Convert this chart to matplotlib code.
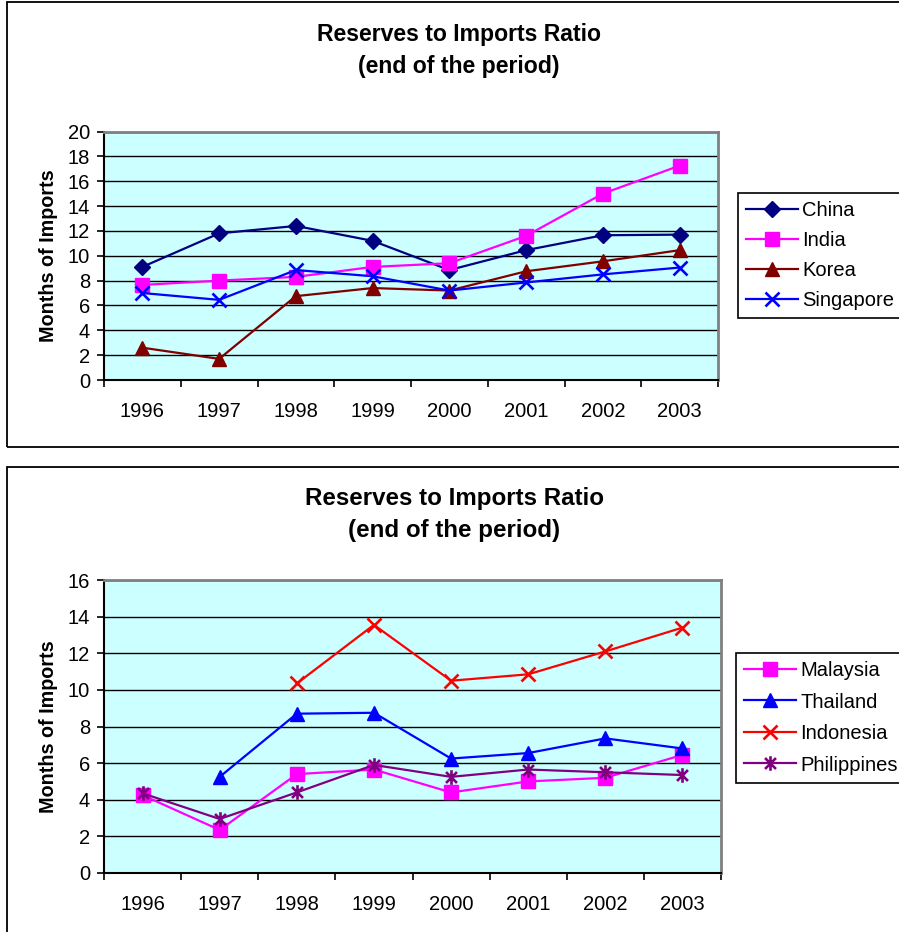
import numpy as np
import matplotlib.pyplot as plt
from matplotlib.path import Path
from matplotlib.patches import Rectangle

plt.rcParams['font.family'] = ['Liberation Sans', 'DejaVu Sans']

years = ['1996', '1997', '1998', '1999', '2000', '2001', '2002', '2003']

# months of imports covered by reserves, first group
china = [9.1, 11.8, 12.4, 11.2, 8.85, 10.45, 11.65, 11.7]
india = [7.65, 8.0, 8.3, 9.1, 9.4, 11.6, 15.0, 17.25]
korea = [2.6, 1.7, 6.75, 7.4, 7.2, 8.75, 9.55, 10.45]
singapore = [7.0, 6.45, 8.85, 8.35, 7.2, 7.85, 8.5, 9.05]

# second group (no data for the early years of Thailand / Indonesia)
malaysia = [4.25, 2.35, 5.4, 5.65, 4.4, 5.0, 5.2, 6.45]
thailand = [np.nan, 5.25, 8.7, 8.75, 6.25, 6.55, 7.35, 6.8]
indonesia = [np.nan, np.nan, 10.35, 13.55, 10.5, 10.85, 12.1, 13.4]
philippines = [4.35, 2.95, 4.4, 5.9, 5.25, 5.65, 5.5, 5.35]

W, H = 899, 932

# excel style asterisk: vertical bar plus an x
star = Path([(0, -1), (0, 1), (-0.75, -0.75), (0.75, 0.75), (-0.75, 0.75), (0.75, -0.75)],
            [Path.MOVETO, Path.LINETO] * 3)


def px_box(l, t, r, b):
    return [l / W, 1 - b / H, (r - l) / W, (b - t) / H]


def draw_panel(fig, box, series, ymax, legend_at, title_y, title_x, title_size, spacing):
    ax = fig.add_axes(px_box(*box))
    ax.set_facecolor('#CCFFFF')
    x = np.arange(len(years))
    for name, vals, color, marker, ms in series:
        kw = dict(color=color, lw=1.6, marker=marker, markersize=ms, label=name)
        if marker in ('x', star):
            kw.update(markeredgewidth=1.9, markerfacecolor='none')
        ax.plot(x, vals, **kw)

    ax.set_xlim(-0.5, len(years) - 0.5)
    ax.set_ylim(0, ymax)
    ax.set_yticks(np.arange(0, ymax + 1, 2))
    ax.set_xticks(x)
    ax.set_xticklabels(years)
    ax.set_xticks(np.arange(len(years) + 1) - 0.5, minor=True)
    ax.tick_params(axis='x', which='major', length=0, pad=16, labelsize=14.5)
    ax.tick_params(axis='x', which='minor', length=5, width=1.2, direction='out')
    ax.tick_params(axis='y', length=5, width=1.2, pad=5, labelsize=14.5)
    ax.grid(axis='y', color='black', lw=1)
    ax.set_axisbelow(True)
    for s in ('left', 'bottom'):
        ax.spines[s].set_color('black')
        ax.spines[s].set_linewidth(1.5)
    for s in ('top', 'right'):
        ax.spines[s].set_color('#808080')
        ax.spines[s].set_linewidth(2)
    ax.set_ylabel('Months of Imports', fontsize=14.2, fontweight='bold', labelpad=7)

    leg = ax.legend(loc='upper left', bbox_to_anchor=(legend_at[0] / W, 1 - legend_at[1] / H),
                    bbox_transform=fig.transFigure, borderaxespad=0, fontsize=14.5,
                    frameon=True, fancybox=False, framealpha=1, edgecolor='black',
                    handlelength=2.6, handletextpad=0.2, labelspacing=spacing, borderpad=0.4)
    leg.get_frame().set_linewidth(1.2)

    fig.text(title_x / W, 1 - title_y / H, 'Reserves to Imports Ratio\n(end of the period)',
             ha='center', va='center', fontsize=title_size, fontweight='bold', linespacing=1.5)
    return ax


fig = plt.figure(figsize=(W / 100, H / 100), dpi=100)

# chart borders, running off the right / bottom edge
fig.patches.append(Rectangle((7 / W, 1 - 447 / H), 2, 445 / H, fill=False, lw=1.3,
                             edgecolor='black', transform=fig.transFigure, figure=fig))
fig.patches.append(Rectangle((7 / W, -1), 2, 1 + (H - 467) / H, fill=False, lw=1.3,
                             edgecolor='black', transform=fig.transFigure, figure=fig))

draw_panel(fig, (104, 131.5, 718, 380),
           [('China', china, '#000080', 'D', 8.5),
            ('India', india, '#FF00FF', 's', 9.5),
            ('Korea', korea, '#800000', '^', 10),
            ('Singapore', singapore, '#0000FF', 'x', 9.5)],
           20, (738, 193), 51, 459, 16.6, 0.55)

draw_panel(fig, (104, 580, 721, 873),
           [('Malaysia', malaysia, '#FF00FF', 's', 9.5),
            ('Thailand', thailand, '#0000FF', '^', 10),
            ('Indonesia', indonesia, '#FF0000', 'x', 9.5),
            ('Philippines', philippines, '#800080', star, 10.5)],
           16, (736, 653), 515, 454, 17.4, 0.62)

fig.savefig('out.png', dpi=100)
